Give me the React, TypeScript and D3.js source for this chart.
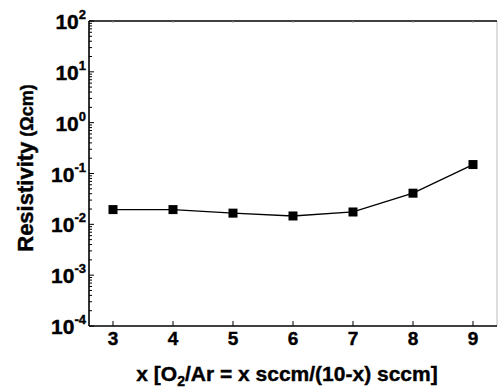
import React from "react";
import * as d3 from "d3";

const xValues = [3, 4, 5, 6, 7, 8, 9];
const resistivity = [0.0195, 0.0195, 0.0166, 0.0146, 0.0175, 0.041, 0.15];
const yExponents = [2, 1, 0, -1, -2, -3, -4];
const xTicks = [3, 4, 5, 6, 7, 8, 9];

const W = 498, H = 389;
const M = { left: 89, right: 497, top: 21, bottom: 326 };
const FONT = "'Liberation Sans', Arial, sans-serif";

export default function App() {
  const x = d3.scaleLinear().domain([2.6, 9.4]).range([M.left, M.right]);
  const y = d3.scaleLog().domain([1e-4, 1e2]).range([M.bottom, M.top]);
  const line = d3
    .line<number>()
    .x((_, i) => x(xValues[i]))
    .y((d) => y(d))
    .curve(d3.curveLinear);

  const minor: number[] = [];
  for (let e = -4; e < 2; e++) for (let k = 2; k <= 9; k++) minor.push(k * Math.pow(10, e));

  const heavy = { stroke: "#000", strokeWidth: 0.4 };

  return (
    <svg width={W} height={H} style={{ position: "absolute", left: 0, top: 0, background: "#fff" }}>
      <rect x={0} y={0} width={W} height={H} fill="#fff" />
      {/* frame */}
      <line x1={M.right} x2={M.right} y1={M.top} y2={M.bottom} stroke="#bbb" strokeWidth={1} />
      <line x1={M.left} x2={M.right} y1={M.top} y2={M.top} stroke="#000" strokeWidth={1.6} />
      <line x1={M.left} x2={M.right} y1={M.bottom} y2={M.bottom} stroke="#000" strokeWidth={1.6} />
      <line x1={M.left} x2={M.left} y1={M.top} y2={M.bottom} stroke="#000" strokeWidth={1.6} />
      {/* y ticks */}
      {yExponents.map((e) => (
        <line key={"ym" + e} x1={M.left} x2={M.left + 5} y1={y(Math.pow(10, e))} y2={y(Math.pow(10, e))} stroke="#000" strokeWidth={1} />
      ))}
      {minor.map((v, i) => (
        <line key={"yn" + i} x1={M.left} x2={M.left + 3} y1={y(v)} y2={y(v)} stroke="#000" strokeWidth={1} />
      ))}
      {/* x ticks */}
      {xTicks.map((t) => (
        <g key={"xt" + t}>
          <line x1={x(t)} x2={x(t)} y1={M.bottom} y2={M.bottom - 5} stroke="#000" strokeWidth={1} />
          <line x1={x(t)} x2={x(t)} y1={M.top} y2={M.top + 2} stroke="#999" strokeWidth={1} />
          <text x={x(t)} y={345} textAnchor="middle" fontFamily={FONT} fontWeight="bold" fontSize={19} fill="#000" {...heavy}>
            {t}
          </text>
        </g>
      ))}
      {/* y tick labels */}
      {yExponents.map((e) => (
        <text key={"yl" + e} x={86} y={y(Math.pow(10, e)) + 8} textAnchor="end" fontFamily={FONT} fontWeight="bold" fontSize={21} fill="#000" {...heavy}>
          10
          <tspan fontSize={13} dy={-10}>{e}</tspan>
        </text>
      ))}
      {/* data */}
      <path d={line(resistivity) || ""} fill="none" stroke="#000" strokeWidth={1.3} />
      {resistivity.map((v, i) => (
        <rect key={"p" + i} x={x(xValues[i]) - 4.5} y={y(v) - 4.5} width={9} height={9} fill="#000" />
      ))}
      {/* axis titles */}
      <text x={287} y={381} textAnchor="middle" fontFamily={FONT} fontWeight="bold" fontSize={21} fill="#000" {...heavy}>
        x [O
        <tspan fontSize={14} dy={5}>2</tspan>
        <tspan dy={-5}>/Ar = x sccm/(10-x) sccm]</tspan>
      </text>
      <text transform={`translate(33,168) rotate(-90)`} textAnchor="middle" fontFamily={FONT} fontWeight="bold" fontSize={22} fill="#000" {...heavy}>
        Resistivity
        <tspan fontSize={18}> (Ωcm)</tspan>
      </text>
    </svg>
  );
}
